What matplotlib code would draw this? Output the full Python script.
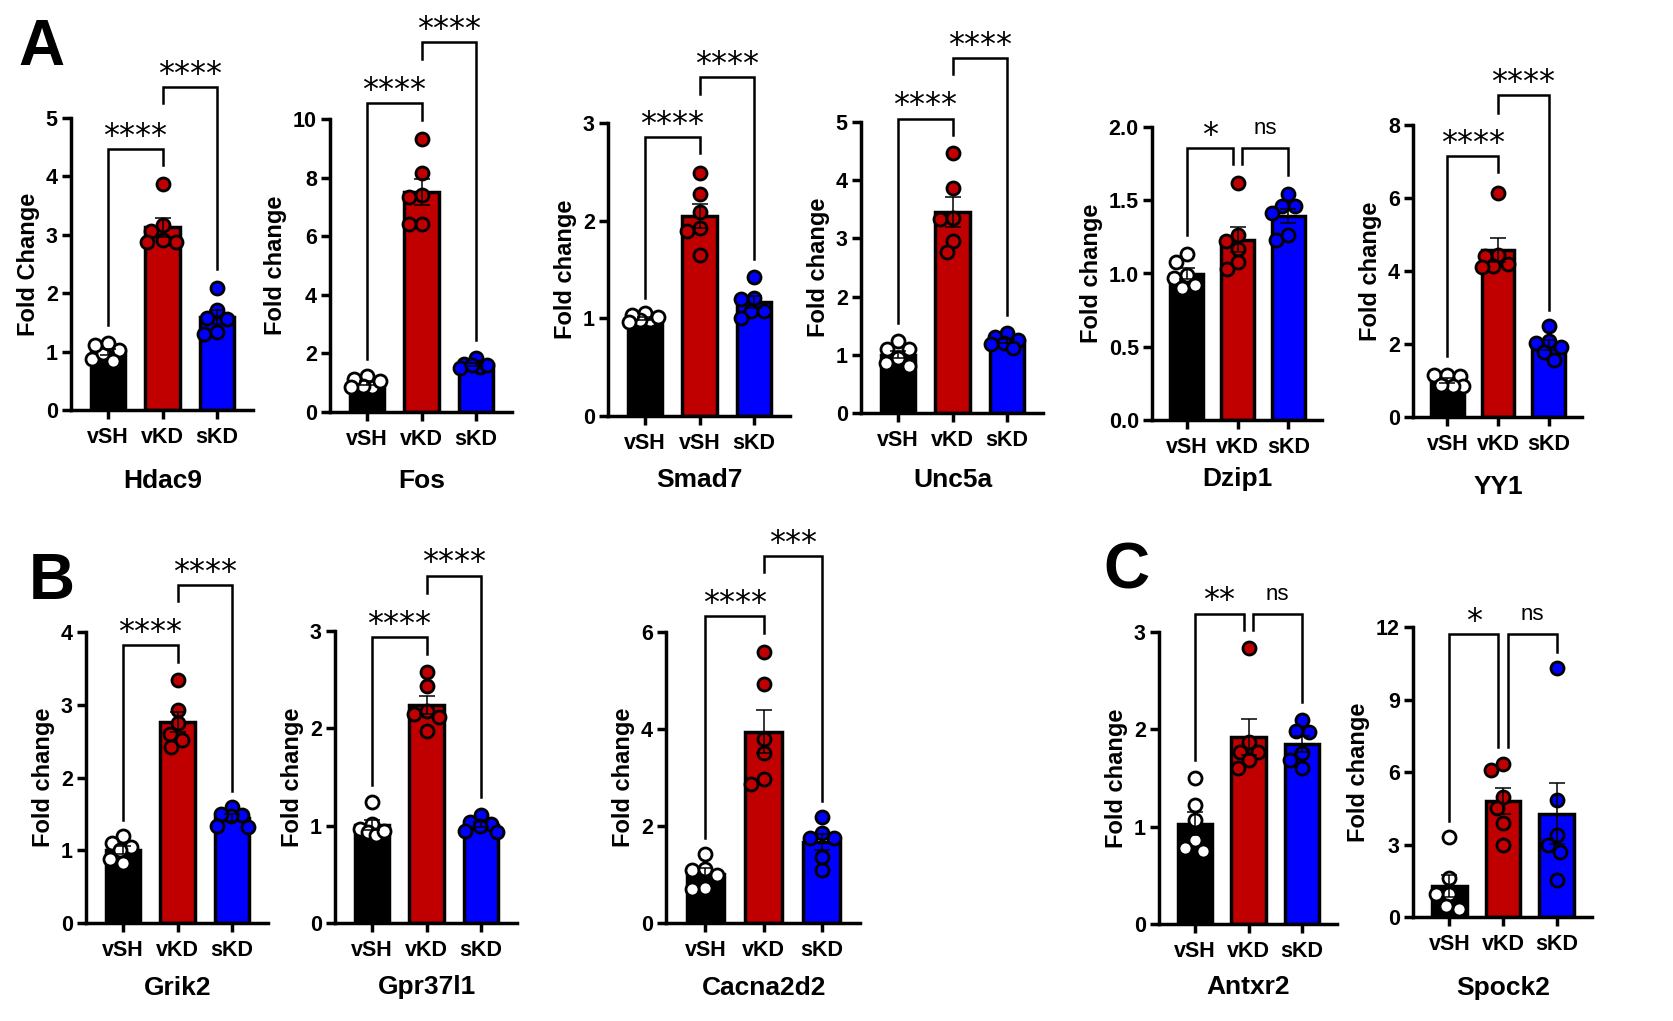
import numpy as np
import matplotlib
matplotlib.use('Agg')
import matplotlib.pyplot as plt
from matplotlib.ticker import FormatStrFormatter

plt.rcParams['font.family'] = ['Liberation Sans', 'DejaVu Sans']

groups = ['vSH', 'vKD', 'sKD']
smad7_groups = ['vSH', 'vSH', 'sKD']   # as labelled in the figure

# individual fold-change values (vSH, vKD, sKD)
hdac9 = [[0.88, 1.03, 0.98, 1.12, 0.84, 1.15],
         [3.87, 3.16, 3.07, 2.91, 2.87, 2.87],
         [2.09, 1.71, 1.57, 1.55, 1.30, 1.34]]
fos = [[0.86, 1.22, 0.88, 1.12, 0.85, 1.07],
       [9.33, 8.15, 7.35, 7.42, 6.41, 6.41],
       [1.85, 1.55, 1.65, 1.60, 1.50, 1.60]]
smad7 = [[0.98, 1.05, 0.98, 1.03, 0.96, 1.01],
         [2.49, 2.27, 2.09, 1.92, 1.89, 1.65],
         [1.42, 1.20, 1.21, 1.08, 1.07, 1.00]]
unc5a = [[1.23, 1.10, 1.10, 0.94, 0.80, 0.86],
         [4.46, 3.87, 3.33, 3.35, 2.96, 2.76],
         [1.38, 1.30, 1.25, 1.20, 1.18, 1.12]]
dzip1 = [[1.13, 1.08, 0.99, 0.97, 0.90, 0.92],
         [1.62, 1.26, 1.22, 1.17, 1.03, 1.08],
         [1.54, 1.46, 1.46, 1.41, 1.23, 1.26]]
yy1 = [[1.15, 1.15, 1.12, 0.85, 0.85, 0.88],
       [6.15, 4.45, 4.40, 4.20, 4.15, 4.10],
       [2.48, 1.93, 2.07, 2.02, 1.77, 1.56]]
grik2 = [[1.04, 1.19, 1.10, 1.00, 0.82, 0.88],
         [3.34, 2.93, 2.75, 2.60, 2.52, 2.42],
         [1.60, 1.48, 1.47, 1.50, 1.33, 1.32]]
gpr37l1 = [[1.24, 1.02, 0.97, 0.94, 0.90, 0.95],
           [2.58, 2.43, 2.18, 2.15, 2.12, 1.97],
           [1.11, 1.04, 1.02, 1.00, 0.94, 0.95]]
cacna2d2 = [[1.43, 1.10, 1.12, 1.00, 0.72, 0.70],
            [5.59, 4.93, 3.79, 3.51, 2.87, 2.97],
            [2.19, 1.75, 1.86, 1.75, 1.37, 1.10]]
antxr2 = [[1.50, 1.22, 1.07, 0.86, 0.75, 0.78],
          [2.84, 1.87, 1.77, 1.77, 1.68, 1.60],
          [2.10, 1.97, 1.98, 1.76, 1.60, 1.69]]
spock2 = [[3.31, 1.61, 0.97, 0.97, 0.34, 0.45],
          [6.10, 6.34, 4.97, 4.50, 3.90, 2.97],
          [10.30, 4.83, 3.38, 2.97, 2.69, 1.52]]

bar_colors = ['black', '#c00000', '#0000ff']
dot_colors = ['white', '#c00000', '#0000ff']

W, H = 1674, 1021
XL, XR = -0.68, 2.66

# gene, data, ylabel, ymax, ystep, x labels, box (left, right, top, bottom px),
# brackets (x1, x2, y, left end, right end, text), gene label gap px
panels = [
    ('Hdac9', hdac9, 'Fold Change', 5, 1, groups, (71, 253, 118, 410),
     [(0, 1, 4.47, 1.46, 4.19, '****'), (1, 2, 5.53, 5.26, 2.41, '****')], 71),
    ('Fos', fos, 'Fold change', 10, 2, groups, (330, 512, 119, 412),
     [(0, 1, 10.54, 1.82, 9.97, '****'), (1, 2, 12.62, 12.04, 2.45, '****')], 69),
    ('Smad7', smad7, 'Fold change', 3, 1, smad7_groups, (608, 790, 123, 416),
     [(0, 1, 2.86, 1.21, 2.69, '****'), (1, 2, 3.47, 3.30, 1.61, '****')], 64),
    ('Unc5a', unc5a, 'Fold change', 5, 1, groups, (861, 1043, 122, 413),
     [(0, 1, 5.06, 1.54, 4.77, '****'), (1, 2, 6.10, 5.82, 1.69, '****')], 67),
    ('Dzip1', dzip1, 'Fold change', 2, 0.5, groups, (1152, 1322, 127, 420),
     [(0, 0.91, 1.855, 1.26, 1.75, '*'), (1.09, 2, 1.855, 1.75, 1.67, 'ns')], 59),
    ('YY1', yy1, 'Fold change', 8, 2, groups, (1413, 1582, 125, 417),
     [(0, 1, 7.14, 1.67, 6.71, '****'), (1, 2, 8.83, 8.34, 2.94, '****')], 70),
    ('Grik2', grik2, 'Fold change', 4, 1, groups, (86, 268, 632, 923),
     [(0, 1, 3.82, 1.41, 3.59, '****'), (1, 2, 4.64, 4.42, 1.82, '****')], 65),
    ('Gpr37l1', gpr37l1, 'Fold change', 3, 1, groups, (335, 517, 631, 923),
     [(0, 1, 2.94, 1.42, 2.76, '****'), (1, 2, 3.57, 3.39, 1.29, '****')], 64),
    ('Cacna2d2', cacna2d2, 'Fold change', 6, 2, groups, (666, 860, 632, 923),
     [(0, 1, 6.32, 1.75, 5.97, '****'), (1, 2, 7.56, 7.23, 2.52, '***')], 65),
    ('Antxr2', antxr2, 'Fold change', 3, 1, groups, (1159, 1337, 632, 924),
     [(0, 0.91, 3.19, 1.69, 3.02, '**'), (1.09, 2, 3.19, 3.02, 2.28, 'ns')], 63),
    ('Spock2', spock2, 'Fold change', 12, 3, groups, (1413, 1592, 627, 917),
     [(0, 0.91, 11.72, 3.97, 7.03, '*'), (1.09, 2, 11.72, 7.03, 10.97, 'ns')], 71),
]


def swarm(vals, ppu_y, ppu_x, diam=13.0, half=16.0):
    # beeswarm in pixel space, kept inside the bar; overlap allowed if crowded
    order = np.argsort(vals)[::-1]
    placed = []
    offs = np.zeros(len(vals))
    cands = sorted(np.arange(-half, half + 0.25, 0.5), key=abs)
    for i in order:
        y = vals[i] * ppu_y
        best, best_d = 0.0, -1.0
        for c in cands:
            d = min([np.hypot(c - px, y - py) for px, py in placed], default=1e9)
            if d >= diam:
                best = c
                break
            if d > best_d:
                best, best_d = c, d
        placed.append((best, y))
        offs[i] = best / ppu_x
    return offs


fig = plt.figure(figsize=(16.74, 10.21), dpi=100)

for gene, pts, ylab, ymax, ystep, xlabels, box, brackets, gap in panels:
    l, r, t, b = box
    ax = fig.add_axes([l / W, 1 - b / H, (r - l) / W, (b - t) / H])
    x = np.arange(3)
    means = [np.mean(p) for p in pts]
    sems = [np.std(p, ddof=1) / np.sqrt(len(p)) for p in pts]

    ax.bar(x, means, width=0.64, color=bar_colors, edgecolor='black',
           linewidth=2.5, zorder=2)
    ppu_y = (b - t) / ymax
    ppu_x = (r - l) / (XR - XL)
    for k in range(3):
        offs = swarm(np.array(pts[k]), ppu_y, ppu_x)
        ax.scatter(k + offs, pts[k], s=88, c=dot_colors[k], edgecolors='black',
                   linewidths=2.0, zorder=3, clip_on=False)
    ax.errorbar(x, means, yerr=sems, fmt='none', ecolor='black', elinewidth=1.1,
                capsize=5.5, capthick=1.1, zorder=4)

    for x1, x2, yb, y1, y2, txt in brackets:
        ax.plot([x1, x1, x2, x2], [y1, yb, yb, y2], color='black', lw=1.8,
                clip_on=False, solid_joinstyle='miter', zorder=5)
        if txt == 'ns':
            ax.annotate(txt, xy=((x1 + x2) / 2, yb), xytext=(0, 10),
                        textcoords='offset points', ha='center', va='baseline',
                        fontsize=16, annotation_clip=False)
        else:
            ax.annotate(txt, xy=((x1 + x2) / 2, yb), xytext=(0, 3),
                        textcoords='offset points', ha='center', va='baseline',
                        fontsize=23, family='DejaVu Sans', annotation_clip=False)

    ax.set_xlim(XL, XR)
    ax.set_ylim(0, ymax)
    ax.set_yticks(np.arange(0, ymax + ystep / 2, ystep))
    if ystep < 1:
        ax.yaxis.set_major_formatter(FormatStrFormatter('%.1f'))
    ax.set_xticks(x)
    ax.set_xticklabels(xlabels)
    for s in ['top', 'right']:
        ax.spines[s].set_visible(False)
    for s in ['left', 'bottom']:
        ax.spines[s].set_linewidth(2.5)
    ax.tick_params(axis='both', width=2.5, length=6.5, labelsize=15.5)
    ax.tick_params(axis='x', pad=6)
    ax.tick_params(axis='y', pad=3)
    for lab in ax.get_xticklabels() + ax.get_yticklabels():
        lab.set_fontweight('bold')
    ax.set_ylabel(ylab, fontsize=17, fontweight='bold', labelpad=4)
    ax.annotate(gene, xy=(1, 0), xycoords=('data', 'axes fraction'),
                xytext=(0, -gap * 0.72), textcoords='offset points',
                ha='center', va='center', fontsize=19, fontweight='bold')

fig.text(18 / W, 1 - 65 / H, 'A', fontsize=46, fontweight='bold', va='baseline')
fig.text(29 / W, 1 - 599 / H, 'B', fontsize=46, fontweight='bold', va='baseline')
fig.text(1103 / W, 1 - 588 / H, 'C', fontsize=46, fontweight='bold', va='baseline')

fig.savefig('out.png', dpi=100)
